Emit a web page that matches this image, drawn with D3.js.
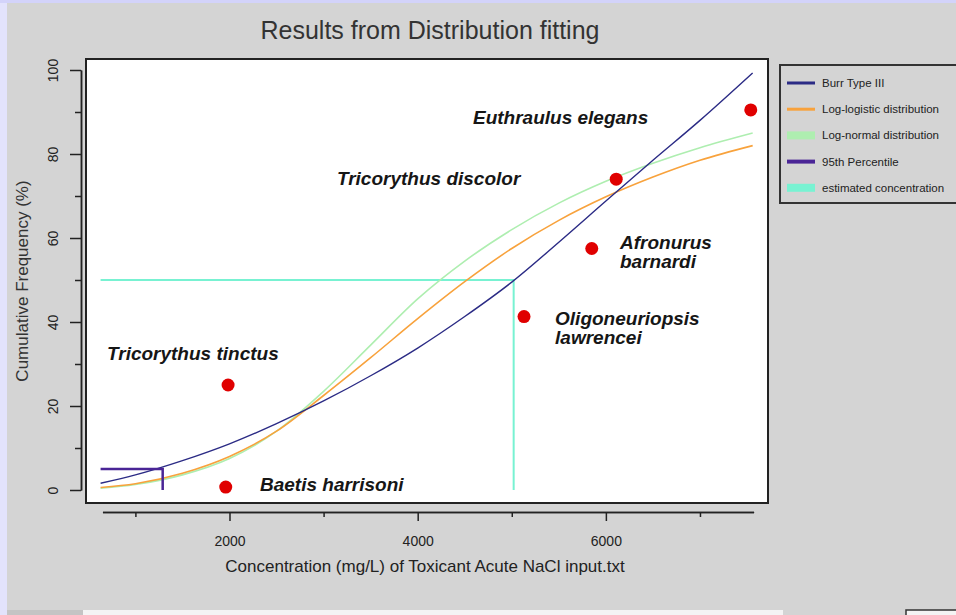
<!DOCTYPE html>
<html>
<head>
<meta charset="utf-8">
<script src="https://cdn.jsdelivr.net/npm/d3@7"></script>
<style>
  body { margin: 0; background: #d4d4d4; }
  svg { display: block; }
</style>
</head>
<body>
<svg width="956" height="615"></svg>
<script>
// ---- data ----
var concentrations = [630, 1000, 1500, 2000, 2500, 3000, 3500, 4000, 4500, 5000, 5500, 6000, 6500, 7000, 7560];
var burrCdf        = [1.6, 3.6, 7.0, 11.0, 15.8, 21.2, 27.2, 33.8, 41.3, 49.5, 59.0, 68.8, 78.5, 88.0, 99.3];
var logLogisticCdf = [0.6, 1.5, 4.0, 8.0, 14.0, 22.5, 31.5, 40.8, 49.6, 57.5, 64.2, 69.8, 74.5, 78.5, 82.0];
var logNormalCdf   = [0.4, 1.3, 3.6, 7.5, 14.0, 23.5, 34.5, 45.5, 54.5, 62.0, 68.3, 73.5, 77.8, 81.5, 85.0];

var speciesNames = ['Baetis harrisoni', 'Tricorythus tinctus', 'Oligoneuriopsis lawrencei',
                    'Afronurus barnardi', 'Tricorythus discolor', 'Euthraulus elegans'];
var speciesConc  = [1960, 1985, 5130, 5850, 6110, 7540];
var speciesFreq  = [0.7, 25, 41.3, 57.5, 74, 90.5];

// where the species names are written (data coordinates, like R's text())
var labelLines = [['Baetis harrisoni'], ['Tricorythus tinctus'], ['Oligoneuriopsis', 'lawrencei'],
                  ['Afronurus', 'barnardi'], ['Tricorythus discolor'], ['Euthraulus elegans']];
var labelConc  = [2324, 698, 5460, 6150, 3142, 4588];
var labelFreq  = [-0.2, 31, 39.3, 57.4, 72.6, 87.1];

// 95th percentile and estimated concentration guides
var hc5Conc = 1290, hc5Freq = 5;
var estConc = 5020, estFreq = 50;

var xMajorTicks = [2000, 4000, 6000];
var xMinorTicks = [1000, 3000, 5000, 7000];
var yMajorTicks = [0, 20, 40, 60, 80, 100];
var yMinorTicks = [10, 30, 50, 70, 90];

var legendNames = ['Burr Type III', 'Log-logistic distribution', 'Log-normal distribution',
                   '95th Percentile', 'estimated concentration'];

// ---- styling ----
var colBurr = '#2b2b85', colLogis = '#f8a23c', colLnorm = '#aeeeb0',
    colPct = '#4a2596', colEst = '#78f2d2', colPoint = '#e00000';
var legendColors = [colBurr, colLogis, colLnorm, colPct, colEst];
var legendWidths = [3, 3, 8, 4, 8];

var svg = d3.select('svg');
var W = +svg.attr('width'), H = +svg.attr('height');
var box = {l: 86, r: 768, t: 59, b: 503};

// window chrome
svg.append('rect').attr('x', 0).attr('y', 0).attr('width', W).attr('height', H).attr('fill', '#d4d4d4');
svg.append('rect').attr('x', 0).attr('y', 0).attr('width', 7).attr('height', H).attr('fill', '#e3e3fc');
svg.append('rect').attr('x', 0).attr('y', 0).attr('width', W).attr('height', 3).attr('fill', '#d3d3fa');
svg.append('rect').attr('x', 7).attr('y', 610).attr('width', 76).attr('height', 5).attr('fill', '#c4c4c4');
svg.append('rect').attr('x', 83).attr('y', 610).attr('width', 700).attr('height', 5).attr('fill', '#f4f4f4');
svg.append('rect').attr('x', 906).attr('y', 610).attr('width', 60).attr('height', 8)
    .attr('fill', '#f4f4f4').attr('stroke', '#333').attr('stroke-width', 1.5);

// scales
var x = d3.scaleLinear().domain([475, 7723]).range([box.l, box.r]);
var y = d3.scaleLinear().domain([0, 100]).range([490, 70]);

// plot panel
svg.append('rect')
    .attr('x', box.l).attr('y', box.t)
    .attr('width', box.r - box.l).attr('height', box.b - box.t)
    .attr('fill', '#ffffff').attr('stroke', '#222').attr('stroke-width', 2);

// title
svg.append('text')
    .attr('x', 430).attr('y', 39)
    .attr('text-anchor', 'middle')
    .style('font-family', 'Liberation Sans, Arial, sans-serif')
    .style('font-size', '25px').style('fill', '#333')
    .text('Results from Distribution fitting');

// x axis (line spans the data range, as in the original)
var xAxisScale = x.copy().domain([650, 7570]).range([x(650), x(7570)]);
var xAxisG = svg.append('g').attr('transform', 'translate(0,512)');
xAxisG.append('g')
    .call(d3.axisBottom(xAxisScale).tickValues(xMinorTicks).tickSize(5).tickSizeOuter(0).tickFormat(''));
xAxisG.append('g')
    .call(d3.axisBottom(xAxisScale).tickValues(xMajorTicks).tickSize(9).tickSizeOuter(0).tickFormat(d3.format('d')));
xAxisG.selectAll('path.domain').attr('stroke', '#222').attr('stroke-width', 1.5);
xAxisG.selectAll('.tick line').attr('stroke', '#222').attr('stroke-width', 1.5);
xAxisG.selectAll('.tick text')
    .attr('y', 34).attr('dy', 0)
    .style('font-family', 'Liberation Sans, Arial, sans-serif')
    .style('font-size', '14px').style('fill', '#222');

svg.append('text')
    .attr('x', 425).attr('y', 572)
    .attr('text-anchor', 'middle')
    .style('font-family', 'Liberation Sans, Arial, sans-serif')
    .style('font-size', '17px').style('fill', '#222')
    .text('Concentration (mg/L) of Toxicant Acute NaCl input.txt');

// y axis
var yAxisG = svg.append('g').attr('transform', 'translate(81,0)');
yAxisG.append('g')
    .call(d3.axisLeft(y).tickValues(yMinorTicks).tickSize(6).tickSizeOuter(0).tickFormat(''));
yAxisG.append('g')
    .call(d3.axisLeft(y).tickValues(yMajorTicks).tickSize(11).tickSizeOuter(0));
yAxisG.selectAll('path.domain').attr('stroke', '#222').attr('stroke-width', 1.5);
yAxisG.selectAll('.tick line').attr('stroke', '#222').attr('stroke-width', 1.5);
yAxisG.selectAll('.tick text')
    .attr('x', 0).attr('y', -23).attr('dy', 0)
    .attr('text-anchor', 'middle')
    .attr('transform', 'rotate(-90)')
    .style('font-family', 'Liberation Sans, Arial, sans-serif')
    .style('font-size', '14px').style('fill', '#222');

svg.append('text')
    .attr('transform', 'translate(28,' + ((box.t + box.b) / 2) + ') rotate(-90)')
    .attr('text-anchor', 'middle')
    .style('font-family', 'Liberation Sans, Arial, sans-serif')
    .style('font-size', '17px').style('fill', '#333')
    .text('Cumulative Frequency (%)');

// fitted curves
var plotG = svg.append('g');
var line = d3.line()
    .x(function(d) { return x(d[0]); })
    .y(function(d) { return y(d[1]); })
    .curve(d3.curveMonotoneX);

function drawCurve(values, colour, width) {
    plotG.append('path')
        .datum(d3.zip(concentrations, values))
        .attr('d', line)
        .attr('fill', 'none')
        .attr('stroke', colour)
        .attr('stroke-width', width);
}

// estimated concentration guide
plotG.append('path')
    .attr('d', d3.line()([[x(concentrations[0]), y(estFreq)], [x(estConc), y(estFreq)], [x(estConc), y(0)]]))
    .attr('fill', 'none').attr('stroke', colEst).attr('stroke-width', 2);

drawCurve(logNormalCdf, colLnorm, 1.6);
drawCurve(logLogisticCdf, colLogis, 1.6);
drawCurve(burrCdf, colBurr, 1.4);

// 95th percentile guide
plotG.append('path')
    .attr('d', d3.line()([[x(concentrations[0]), y(hc5Freq)], [x(hc5Conc), y(hc5Freq)], [x(hc5Conc), y(0)]]))
    .attr('fill', 'none').attr('stroke', colPct).attr('stroke-width', 2.5);

// species points
plotG.selectAll('circle.dot')
    .data(d3.zip(speciesConc, speciesFreq))
    .enter().append('circle')
    .attr('class', 'dot')
    .attr('cx', function(d) { return x(d[0]); })
    .attr('cy', function(d) { return y(d[1]); })
    .attr('r', 6.5)
    .attr('fill', colPoint);

// species names
var labels = plotG.selectAll('text.species')
    .data(labelLines)
    .enter().append('text')
    .attr('class', 'species')
    .attr('x', function(d, i) { return x(labelConc[i]); })
    .attr('y', function(d, i) { return y(labelFreq[i]); })
    .style('font-family', 'Liberation Sans, Arial, sans-serif')
    .style('font-size', '19px').style('font-weight', 'bold').style('font-style', 'italic')
    .style('fill', '#161616');

labels.selectAll('tspan')
    .data(function(d) { return d; })
    .enter().append('tspan')
    .attr('x', function() { return d3.select(this.parentNode).attr('x'); })
    .attr('dy', function(d, j) { return j === 0 ? 0 : 19; })
    .text(function(d) { return d; });

// legend
var legendG = svg.append('g').attr('transform', 'translate(780,65)');
legendG.append('rect')
    .attr('width', 200).attr('height', 138)
    .attr('fill', 'none').attr('stroke', '#333').attr('stroke-width', 2);
var legendItems = legendG.selectAll('g.item')
    .data(legendNames)
    .enter().append('g')
    .attr('class', 'item')
    .attr('transform', function(d, i) { return 'translate(0,' + (18 + i * 26.2) + ')'; });
legendItems.append('line')
    .attr('x1', 7).attr('x2', 35)
    .attr('stroke', function(d, i) { return legendColors[i]; })
    .attr('stroke-width', function(d, i) { return legendWidths[i]; });
legendItems.append('text')
    .attr('x', 42).attr('dy', '0.35em')
    .style('font-family', 'Liberation Sans, Arial, sans-serif')
    .style('font-size', '11.5px').style('fill', '#222')
    .text(function(d) { return d; });
</script>
</body>
</html>
